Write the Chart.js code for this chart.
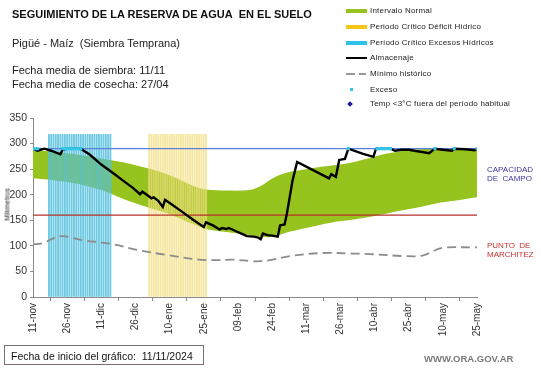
<!DOCTYPE html>
<html>
<head>
<meta charset="utf-8">
<script src="https://cdn.jsdelivr.net/npm/chart.js@4.4.1/dist/chart.umd.min.js"></script>
<style>
  html, body { margin:0; padding:0; background:#fff; }
  #wrap { position:relative; width:541px; height:368px; overflow:hidden; background:#fff; font-family:"Liberation Sans", Arial, sans-serif; }
  #c { position:absolute; left:0; top:0; }
  .t { position:absolute; white-space:nowrap; color:#111; }
  .lg { position:absolute; white-space:nowrap; font-size:8px; letter-spacing:0.2px; color:#222; line-height:10px; }
  .sw { position:absolute; }
</style>
</head>
<body>
<div id="wrap">
  <canvas id="c" width="541" height="368"></canvas>

  <div class="t" style="left:12px;top:8px;font-size:11px;font-weight:bold;">SEGUIMIENTO DE LA RESERVA DE AGUA&nbsp; EN EL SUELO</div>
  <div class="t" style="left:12px;top:37px;font-size:11px;color:#222;">Pigüé - Maíz&nbsp; (Siembra Temprana)</div>
  <div class="t" style="left:12px;top:63px;font-size:11px;color:#222;line-height:14px;">Fecha media de siembra: 11/11<br>Fecha media de cosecha: 27/04</div>

  <div class="sw" style="left:346px;top:9px;width:21px;height:4px;background:#96c31e;"></div>
  <div class="lg" style="left:370px;top:6px;">Intervalo Normal</div>
  <div class="sw" style="left:346px;top:25px;width:21px;height:4px;background:#f5c518;"></div>
  <div class="lg" style="left:370px;top:22px;">Periodo Crítico Déficit Hídrico</div>
  <div class="sw" style="left:346px;top:41px;width:21px;height:4px;background:#2ec4ea;"></div>
  <div class="lg" style="left:370px;top:38px;">Período Crítico Excesos Hídricos</div>
  <div class="sw" style="left:346px;top:57px;width:21px;height:2px;background:#000;"></div>
  <div class="lg" style="left:370px;top:53px;">Almacenaje</div>
  <div class="sw" style="left:346px;top:73px;width:9px;height:2px;background:#999;"></div>
  <div class="sw" style="left:359px;top:73px;width:7px;height:2px;background:#999;"></div>
  <div class="lg" style="left:370px;top:69px;">Mínimo histórico</div>
  <div class="sw" style="left:350px;top:88px;width:3px;height:3px;background:#33c6e8;"></div>
  <div class="lg" style="left:370px;top:85px;">Exceso</div>
  <div class="sw" style="left:348px;top:102px;width:4px;height:4px;background:#1a1aa0;transform:rotate(45deg);"></div>
  <div class="lg" style="left:370px;top:99px;">Temp &lt;3°C fuera del período habitual</div>

  <div class="t" style="left:487px;top:165px;font-size:8px;line-height:9px;color:#3a3aa8;">CAPACIDAD<br>DE&nbsp; CAMPO</div>
  <div class="t" style="left:487px;top:241px;font-size:8px;line-height:9px;color:#c83232;">PUNTO&nbsp; DE<br>MARCHITEZ</div>

  <div class="t" style="left:-12px;top:201px;font-size:7px;color:#222;transform:rotate(-90deg);width:38px;text-align:center;">Milímetros</div>

  <div class="t" style="left:4px;top:345px;height:20px;border:1px solid #7d6e6e;font-size:10.5px;line-height:20px;color:#111;padding-left:6px;box-sizing:border-box;width:200px;">Fecha de inicio del gráfico:&nbsp; 11/11/2024</div>
  <div class="t" style="left:424px;top:353px;font-size:9.5px;font-weight:bold;color:#7a7a7a;">WWW.ORA.GOV.AR</div>
</div>

<script>
// ---- Data (days since 11-nov-2024) ----
const tickLabels = ['11-nov','26-nov','11-dic','26-dic','10-ene','25-ene','09-feb','24-feb','11-mar','26-mar','10-abr','25-abr','10-may','25-may'];

const bandDays  = [0,10,20,30,40,50,60,70,76,85,95,100,104,108,113,120,126,133,140,147,155,163,170,177,185,195];
const bandUpper = [287,284,278,271,263,252,238,218,210,208,209,217,229,238,245,250,254,258,263,271,280,286,289,290,290,290];
const bandLower = [232,228,221,209,191,176,162,143,133,127,121,118,117,121,128,135,141,147,151,156,163,170,176,183,188,195];

const minDays = [0,4,12,22,34,47,59,73,80,88,96,100,104,113,127,140,148,163,171,178,181,195];
const minVals = [103,105,119,111,104,91,82,73,72,73,70,70,72,80,86,85,84,80,81,94,97,97];

const almDays = [0,2,5,8,12,13,15,21,25,30,35,40,44,47,48,50,52,53,55,57,58,61,66,70,74,75,76,79,82,83,85,86,88,91,94,97,99,100,101,103,105,107.5,108.5,110.5,111.5,113,114,116,123,130,131,133,134.5,137,138.5,145,149.5,150.5,151,157,159,162,165,174,176.5,180,184,185,190,194,195];
const almVals = [290,286,290,286,279,288,290,290,278,259,243,226,213,201,206,200,193,195,188,176,190,181,165,152,140,137,146,140,132,135,133,135,131,125,119,118,116,113,124,121,120,118,140,142,163,202,228,264,248,232,240,235,268,270,290,280,274,288,290,290,286,288,288,281,290,288,286,290,289,287,290];

const excesoDays = [0,1,2,13,14,15,16,17,18,19,20,21,138.5,151,152,153,154,155,156,157,176.5,185,195];
const excesoVals = [290,290,290,290,290,290,290,290,290,290,290,290,290,290,290,290,290,290,290,290,290,290,290];

const excesoPeriodDays = [7,8,9,10,11,12,13,14,15,16,17,18,19,20,21,22,23,24,25,26,27,28,29,30,31,32,33,34];
const deficitPeriodDays = [51,52,53,54,55,56,57,58,59,60,61,62,63,64,65,66,67,68,69,70,71,72,73,74,75,76];
const periodTop = 318;

const capacidadCampo = 290;
const puntoMarchitez = 160;
const xMin = 0, xMax = 195;

// ---- Build chart ----
const pts = (xs, ys) => xs.map((x, i) => ({x, y: ys[i]}));
const bars = (xs) => xs.map(x => ({x, y: periodTop}));

new Chart(document.getElementById('c'), {
  type: 'line',
  data: {
    datasets: [
      { // 0 exceso dots
        type: 'line', data: pts(excesoDays, excesoVals), showLine: false,
        pointStyle: 'rect', pointRadius: 2.2, pointBackgroundColor: '#33c6e8', pointBorderWidth: 0, order: 0
      },
      { // 1 almacenaje
        type: 'line', data: pts(almDays, almVals), borderColor: '#000', borderWidth: 2.4,
        pointRadius: 0, tension: 0, fill: false, order: 1
      },
      { // 2 minimo historico
        type: 'line', data: pts(minDays, minVals), borderColor: '#8c8c8c', borderWidth: 1.8,
        borderDash: [9, 5], pointRadius: 0, tension: 0.35, fill: false, order: 2
      },
      { // 3 capacidad de campo
        type: 'line', data: [{x: xMin, y: capacidadCampo}, {x: xMax, y: capacidadCampo}],
        borderColor: '#5b82d8', borderWidth: 1.2, pointRadius: 0, fill: false, order: 3
      },
      { // 4 punto de marchitez
        type: 'line', data: [{x: xMin, y: puntoMarchitez}, {x: xMax, y: puntoMarchitez}],
        borderColor: '#b8302a', borderWidth: 1.2, pointRadius: 0, fill: false, order: 3
      },
      { // 5 excesos period stripes
        type: 'bar', data: bars(excesoPeriodDays), backgroundColor: 'rgba(85,192,222,0.85)',
        barThickness: 1.2, grouped: false, order: 4
      },
      { // 6 deficit period stripes
        type: 'bar', data: bars(deficitPeriodDays), backgroundColor: 'rgba(242,222,128,0.75)',
        barThickness: 1.2, grouped: false, order: 4
      },
      { // 7 band lower
        type: 'line', data: pts(bandDays, bandLower), borderWidth: 0, pointRadius: 0,
        tension: 0.3, fill: false, order: 5
      },
      { // 8 band upper
        type: 'line', data: pts(bandDays, bandUpper), borderWidth: 0, pointRadius: 0,
        tension: 0.3, fill: {target: 7}, backgroundColor: '#96c31e', order: 5
      }
    ]
  },
  options: {
    responsive: false,
    animation: false,
    events: [],
    layout: { padding: { left: 0, top: 118, right: 64, bottom: 31 } },
    plugins: { legend: { display: false }, tooltip: { enabled: false } },
    scales: {
      x: {
        type: 'linear', min: xMin, max: xMax, offset: false,
        afterFit: s => { s.height = 40; },
        border: { display: true, color: '#8a8a8a', width: 1 },
        grid: { display: true, drawOnChartArea: false, drawTicks: true, tickLength: 4, color: '#8a8a8a' },
        ticks: {
          stepSize: 15, autoSkip: false, minRotation: 90, maxRotation: 90, padding: 2,
          color: '#333', font: { family: 'Liberation Sans', size: 10 },
          callback: (v, i) => tickLabels[i]
        }
      },
      y: {
        min: 0, max: 350,
        afterFit: s => { s.width = 33; },
        border: { display: true, color: '#8a8a8a', width: 1 },
        grid: { display: true, drawOnChartArea: false, drawTicks: true, tickLength: 3, color: '#8a8a8a' },
        ticks: { stepSize: 50, color: '#333', padding: 3, font: { family: 'Liberation Sans', size: 10.5 } }
      }
    }
  }
});
</script>
</body>
</html>
